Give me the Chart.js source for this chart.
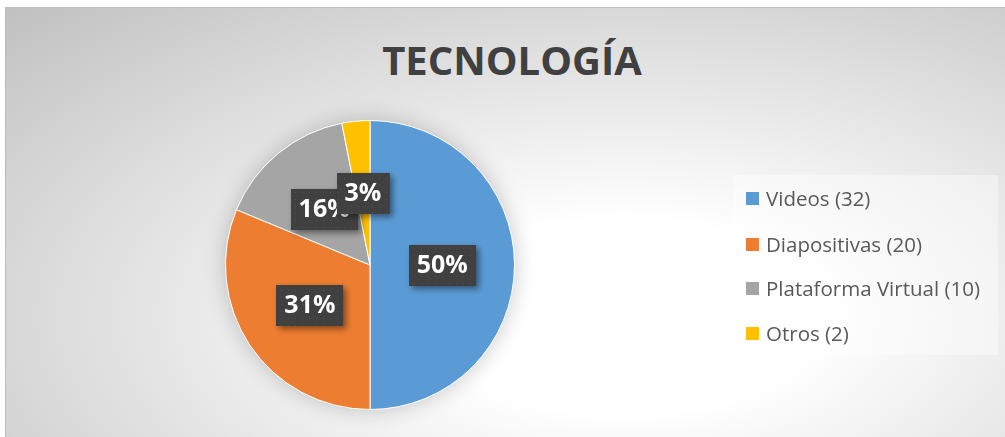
<!DOCTYPE html>
<html>
<head>
<meta charset="utf-8">
<script src="https://cdn.jsdelivr.net/npm/chart.js@4.4.0/dist/chart.umd.min.js"></script>
<style>
body{margin:0;background:#fff;width:1005px;height:437px;overflow:hidden;font-family:"Open Sans",sans-serif;}
#marco{position:absolute;left:5px;top:7px;width:1000px;height:430px;
  background:radial-gradient(ellipse farthest-corner at 62% 72%, #ffffff 0%, #ffffff 22%, #c0c0c0 100%);
  box-shadow:inset 1px 1px 0 #bcbcbc;}
#titulo{position:absolute;left:0;top:29px;width:1014px;text-align:center;font-size:40px;line-height:48px;font-weight:700;color:#404040;}
#grafico{position:absolute;left:0;top:0;}
#leyenda{position:absolute;left:728px;top:168px;width:265px;height:180px;background:rgba(255,255,255,0.4);}
.item{position:absolute;left:13px;height:24px;display:flex;align-items:center;font-size:20.5px;color:#595959;white-space:nowrap;}
.cuadro{width:13px;height:13px;margin-right:7px;flex:none;}
</style>
</head>
<body>
<div id="marco">
  <div id="titulo"></div>
  <canvas id="grafico" width="1000" height="430"></canvas>
  <div id="leyenda"></div>
</div>
<script>
// --- Datos ---
const titulo = 'TECNOLOGÍA';
const categorias = ['Videos', 'Diapositivas', 'Plataforma Virtual', 'Otros'];
const valores = [32, 20, 10, 2];
const colores = ['#5B9BD5', '#ED7D31', '#A5A5A5', '#FFC000'];

document.getElementById('titulo').innerText = titulo;

// --- Leyenda ---
const leyenda = document.getElementById('leyenda');
const posLeyenda = [11, 57, 101, 146];
categorias.forEach((c,i)=>{
  const d = document.createElement('div');
  d.className = 'item';
  d.style.top = posLeyenda[i] + 'px';
  d.innerHTML = `<span class="cuadro" style="background:${colores[i]}"></span>${c} (${valores[i]})`;
  leyenda.appendChild(d);
});

// --- Patron de las etiquetas ---
function crearPatron(ctx){
  const c = document.createElement('canvas');
  c.width = 7; c.height = 7;
  const p = c.getContext('2d');
  p.fillStyle = '#404040'; p.fillRect(0,0,7,7);
  p.fillStyle = '#525252'; p.fillRect(3,3,1,1);
  return ctx.createPattern(c,'repeat');
}

const etiquetasPlugin = {
  id:'etiquetas',
  beforeDatasetsDraw(chart){
    // sombra suave del circulo
    const arc = chart.getDatasetMeta(0).data[0];
    const ctx = chart.ctx;
    ctx.save();
    ctx.shadowColor = 'rgba(0,0,0,0.22)';
    ctx.shadowBlur = 22;
    ctx.fillStyle = '#ffffff';
    ctx.beginPath();
    ctx.arc(arc.x, arc.y, arc.outerRadius, 0, Math.PI*2);
    ctx.fill();
    ctx.restore();
  },
  afterDatasetsDraw(chart){
    const ctx = chart.ctx;
    const meta = chart.getDatasetMeta(0);
    const total = valores.reduce((a,b)=>a+b,0);
    const patron = crearPatron(ctx);
    ctx.save();
    ctx.font = '700 25px "Open Sans"';
    ctx.textAlign = 'center';
    ctx.textBaseline = 'middle';
    meta.data.forEach((arc,i)=>{
      const p = arc.tooltipPosition();
      const txt = Math.round(valores[i]/total*100) + '%';
      const w = ctx.measureText(txt).width + 16, h = 41;
      const x = Math.round(p.x - w/2), y = Math.round(p.y - h/2);
      ctx.shadowColor = 'rgba(0,0,0,0.45)';
      ctx.shadowBlur = 6;
      ctx.shadowOffsetX = 3;
      ctx.shadowOffsetY = 3;
      ctx.fillStyle = patron;
      ctx.fillRect(x, y, w, h);
      ctx.shadowColor = 'transparent';
      ctx.fillStyle = '#ffffff';
      ctx.fillText(txt, p.x, p.y + 1);
    });
    ctx.restore();
  }
};

new Chart(document.getElementById('grafico').getContext('2d'), {
  type:'pie',
  data:{
    labels: categorias,
    datasets:[{
      data: valores,
      backgroundColor: colores,
      borderColor:'#ffffff',
      borderWidth:1,
      hoverOffset:0
    }]
  },
  options:{
    responsive:false,
    animation:false,
    events:[],
    devicePixelRatio:1,
    layout:{padding:{left:220, right:490, top:113, bottom:27}},
    plugins:{legend:{display:false}, tooltip:{enabled:false}, title:{display:false}}
  },
  plugins:[etiquetasPlugin]
});
</script>
</body>
</html>
